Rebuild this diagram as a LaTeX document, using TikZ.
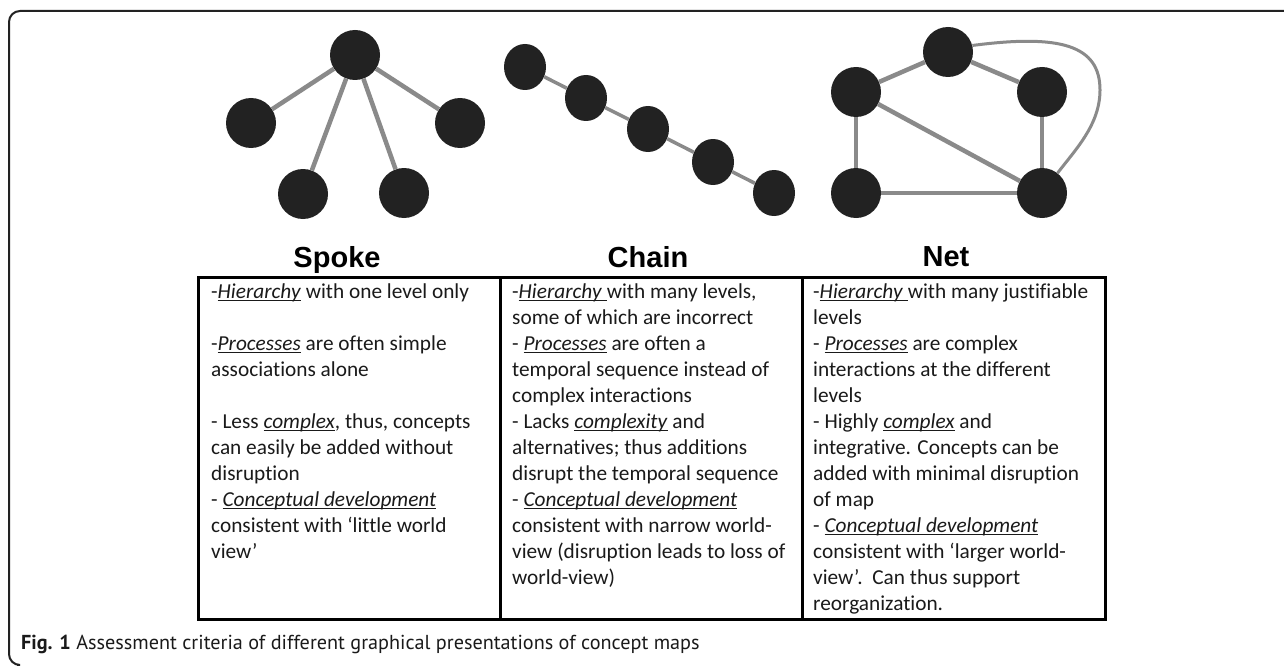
\documentclass[tikz,border=0pt]{standalone}
\usepackage{fontspec}
\setmainfont{Carlito}[Ligatures=NoCommon]
\newfontfamily\titlefont{Liberation Sans}
\newfontfamily\capfont{PT Sans}
\usetikzlibrary{shapes.geometric}
\definecolor{nodefill}{HTML}{222222}
\definecolor{edgegray}{HTML}{8A8A8A}
\definecolor{textcol}{HTML}{1A1A1A}
\newcommand\myul[1]{\setbox0\hbox{#1}\rlap{\rule[-3pt]{\wd0}{1.1pt}}\box0\relax}
\begin{document}
\begin{tikzpicture}[x=1pt,y=-1pt,
  bigdot/.style={circle,fill=nodefill,inner sep=0pt,minimum size=50pt},
  chaindot/.style={ellipse,fill=nodefill,inner sep=0pt,minimum width=42pt,minimum height=46pt},
  thickedge/.style={draw=edgegray,line width=4.5pt},
  chainedge/.style={draw=edgegray,line width=3.5pt},
  curveedge/.style={draw=edgegray,line width=3pt},
  title/.style={font=\titlefont\bfseries\fontsize{29}{34}\selectfont,inner sep=0pt,anchor=base},
  coltext/.style={font=\fontsize{21.3}{26}\selectfont,text=textcol,inner sep=0pt,align=left,anchor=north west},
  tableline/.style={draw=black,line width=3pt},
  frameline/.style={draw=nodefill,line width=2pt}]
\useasboundingbox (0,0) rectangle (1284,666);
\fill[white] (0,0) rectangle (1284,666);
% frame
\draw[frameline,rounded corners=11pt] (1284,11) -- (9,11) -- (9,665) -- (17,665);
% Spoke
\node[bigdot] (st) at (355,55) {};
\node[bigdot] (sl) at (251,123) {};
\node[bigdot] (sr) at (460,123) {};
\node[bigdot] (sbl) at (303,194) {};
\node[bigdot] (sbr) at (404,193) {};
\draw[thickedge] (st) -- (sl);
\draw[thickedge] (st) -- (sr);
\draw[thickedge] (st) -- (sbl);
\draw[thickedge] (st) -- (sbr);
% Chain
\node[chaindot] (c1) at (525,67) {};
\node[chaindot] (c2) at (586,98) {};
\node[chaindot] (c3) at (648,129) {};
\node[chaindot] (c4) at (713,162) {};
\node[chaindot] (c5) at (774,193) {};
\draw[chainedge] (c1) -- (c2);
\draw[chainedge] (c2) -- (c3);
\draw[chainedge] (c3) -- (c4);
\draw[chainedge] (c4) -- (c5);
% Net
\node[bigdot] (nt) at (948,52) {};
\node[bigdot] (nlu) at (856,92) {};
\node[bigdot] (nru) at (1042,92) {};
\node[bigdot] (nll) at (856,193) {};
\node[bigdot] (nrl) at (1042,193) {};
\draw[thickedge] (nt) -- (nlu);
\draw[thickedge] (nt) -- (nru);
\draw[thickedge] (nlu) -- (nll);
\draw[thickedge] (nlu) -- (nrl);
\draw[thickedge] (nru) -- (nrl);
\draw[thickedge] (nll) -- (nrl);
\draw[curveedge] (nt.15) .. controls (1060,34) and (1100,45) .. (1100,90)
   .. controls (1100,125) and (1075,150) .. (nrl.52);
% titles
\node[title] (tspoke) at (337,267) {Spoke};
\node[title] (tchain) at (648,267) {Chain};
\node[title] (tnet) at (946,266) {Net};
% table
\draw[tableline] (198,277) rectangle (1105,619);
\draw[tableline] (500,277) -- (500,619);
\draw[tableline] (802,277) -- (802,619);
% column texts
\node[coltext] (xspoke) at (211,278) {\rule{0pt}{20pt}-\myul{\textit{Hierarchy}} with one level only\\
\mbox{}\\
-\myul{\textit{Processes}} are often simple\\
associations alone\\
\mbox{}\\
- Less \myul{\textit{complex}}, thus, concepts\\
can easily be added without\\
disruption\\
- \myul{\textit{Conceptual development}}\\
consistent with ‘little world\\
view’};
\node[coltext] (xchain) at (512,278) {\rule{0pt}{20pt}-\myul{\textit{Hierarchy}\ }with many levels,\\
some of which are incorrect\\
- \myul{\textit{Processes}} are often a\\
temporal sequence instead of\\
complex interactions\\
- Lacks \myul{\textit{complexity}} and\\
alternatives; thus additions\\
disrupt the temporal sequence\\
- \myul{\textit{Conceptual development}}\\
consistent with narrow world-\\
view (disruption leads to loss of\\
world-view)};
\node[coltext] (xnet) at (813,278) {\rule{0pt}{20pt}-\myul{\textit{Hierarchy}\ }with many justifiable\\
levels\\
- \myul{\textit{Processes}} are complex\\
interactions at the different\\
levels\\
- Highly \myul{\textit{complex}} and\\
integrative. Concepts can be\\
added with minimal disruption\\
of map\\
- \myul{\textit{Conceptual development}}\\
consistent with ‘larger world-\\
view’.~~Can thus support\\
reorganization.};
% caption
\node[font=\capfont\fontsize{20.2}{24}\selectfont,text=textcol,inner sep=0pt,anchor=base west] (cap) at (21,649) {\textbf{Fig. 1} Assessment criteria of different graphical presentations of concept maps};
\end{tikzpicture}
\end{document}
